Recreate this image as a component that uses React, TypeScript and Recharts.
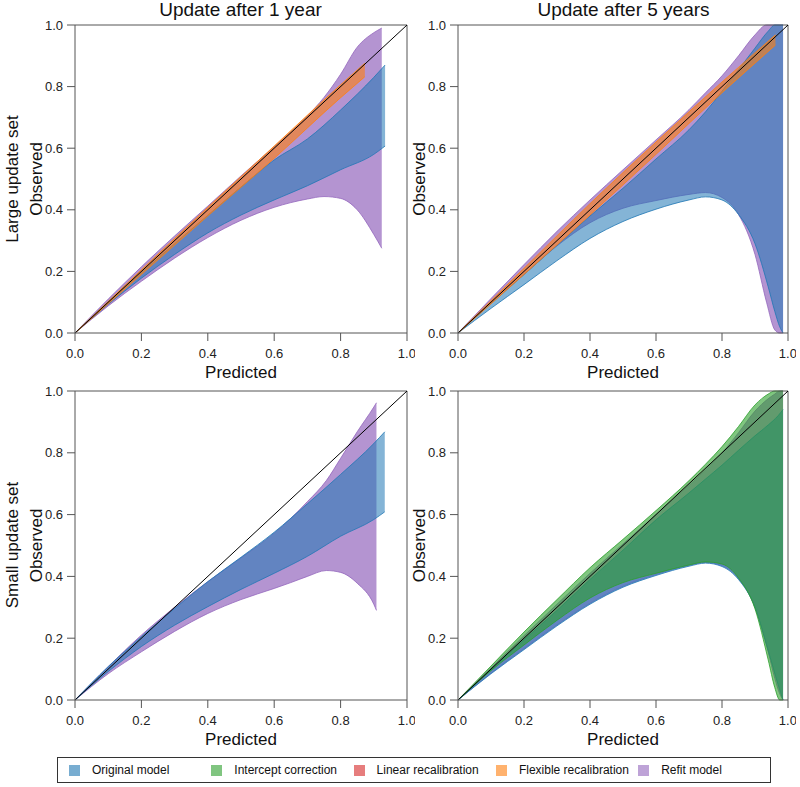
import React from "react";
import { ComposedChart, Area, XAxis, YAxis, ReferenceLine, Label } from "recharts";

// [predicted, lower observed, upper observed]
type Pt = [number, number, number];

const axisTicks = [0, 0.2, 0.4, 0.6, 0.8, 1.0];
const columnTitles = ["Update after 1 year", "Update after 5 years"];
const rowTitles = ["Large update set", "Small update set"];
const models = [
  "Original model",
  "Intercept correction",
  "Linear recalibration",
  "Flexible recalibration",
  "Refit model",
];
const modelColors = ["#1f77b4", "#2ca02c", "#d62728", "#ff7f0e", "#9467bd"];
const modelOpacity = [0.55, 0.6, 0.6, 0.6, 0.7];

/* Large update set, update after 1 year */
const large1Refit: Pt[] = [
  [0, 0, 0], [0.1, 0.088, 0.11], [0.2, 0.168, 0.215], [0.3, 0.243, 0.315],
  [0.4, 0.31, 0.412], [0.5, 0.366, 0.51], [0.6, 0.408, 0.605], [0.7, 0.435, 0.705],
  [0.75, 0.443, 0.765], [0.8, 0.437, 0.84], [0.85, 0.4, 0.928], [0.9, 0.32, 0.975],
  [0.924, 0.275, 0.99],
];
const large1Original: Pt[] = [
  [0, 0, 0], [0.1, 0.093, 0.1], [0.2, 0.178, 0.196], [0.3, 0.255, 0.29],
  [0.4, 0.325, 0.382], [0.5, 0.383, 0.474], [0.6, 0.432, 0.562], [0.7, 0.478, 0.63],
  [0.8, 0.53, 0.724], [0.9, 0.58, 0.83], [0.934, 0.607, 0.87],
];
const large1Flexible: Pt[] = [
  [0, 0, 0], [0.2, 0.19, 0.205], [0.4, 0.38, 0.408], [0.6, 0.567, 0.607],
  [0.8, 0.764, 0.806], [0.873, 0.832, 0.876],
];

/* Large update set, update after 5 years */
const large5Refit: Pt[] = [
  [0, 0, 0], [0.1, 0.098, 0.112], [0.2, 0.19, 0.222], [0.3, 0.283, 0.33],
  [0.4, 0.358, 0.432], [0.5, 0.405, 0.53], [0.6, 0.43, 0.627], [0.7, 0.45, 0.725],
  [0.75, 0.456, 0.78], [0.8, 0.44, 0.835], [0.85, 0.385, 0.9], [0.9, 0.255, 0.968],
  [0.935, 0.1, 1.0], [0.96, 0.01, 1.0], [0.975, 0, 1.0], [0.985, 0, 1.0],
];
const large5Original: Pt[] = [
  [0, 0, 0], [0.1, 0.08, 0.095], [0.2, 0.157, 0.19], [0.3, 0.235, 0.285],
  [0.4, 0.307, 0.38], [0.5, 0.362, 0.47], [0.6, 0.402, 0.565], [0.7, 0.432, 0.66],
  [0.75, 0.442, 0.718], [0.8, 0.432, 0.785], [0.85, 0.385, 0.855], [0.9, 0.29, 0.925],
  [0.94, 0.15, 0.98], [0.96, 0.07, 1.0], [0.975, 0.02, 1.0], [0.985, 0, 1.0],
];
const large5Flexible: Pt[] = [
  [0, 0, 0], [0.2, 0.19, 0.21], [0.4, 0.383, 0.42], [0.6, 0.58, 0.62],
  [0.8, 0.78, 0.815], [0.962, 0.935, 0.968],
];

/* Small update set, update after 1 year */
const small1Refit: Pt[] = [
  [0, 0, 0], [0.1, 0.085, 0.108], [0.2, 0.156, 0.21], [0.3, 0.222, 0.3],
  [0.4, 0.28, 0.383], [0.5, 0.325, 0.46], [0.6, 0.361, 0.54], [0.65, 0.38, 0.588],
  [0.7, 0.4, 0.642], [0.757, 0.419, 0.71], [0.8, 0.413, 0.782], [0.85, 0.378, 0.868],
  [0.9, 0.31, 0.948], [0.908, 0.29, 0.962],
];
const small1Original: Pt[] = [
  [0, 0, 0], [0.1, 0.092, 0.108], [0.2, 0.173, 0.205], [0.3, 0.242, 0.296],
  [0.4, 0.302, 0.383], [0.5, 0.358, 0.462], [0.6, 0.41, 0.543], [0.7, 0.465, 0.635],
  [0.8, 0.53, 0.73], [0.9, 0.584, 0.83], [0.933, 0.609, 0.868],
];

/* Small update set, update after 5 years */
const small5Refit: Pt[] = [
  [0, 0, 0], [0.1, 0.087, 0.104], [0.2, 0.166, 0.208], [0.3, 0.243, 0.31],
  [0.4, 0.313, 0.41], [0.5, 0.368, 0.505], [0.6, 0.406, 0.6], [0.7, 0.436, 0.695],
  [0.75, 0.445, 0.745], [0.8, 0.435, 0.8], [0.85, 0.393, 0.865], [0.9, 0.3, 0.935],
  [0.94, 0.155, 0.975], [0.96, 0.07, 0.99], [0.975, 0.02, 1.0], [0.985, 0, 1.0],
];
const small5Original: Pt[] = [
  [0, 0, 0], [0.1, 0.085, 0.097], [0.2, 0.163, 0.195], [0.3, 0.24, 0.29],
  [0.4, 0.31, 0.39], [0.5, 0.365, 0.485], [0.6, 0.403, 0.583], [0.7, 0.433, 0.67],
  [0.75, 0.443, 0.715], [0.8, 0.432, 0.76], [0.85, 0.39, 0.808], [0.9, 0.3, 0.855],
  [0.94, 0.16, 0.89], [0.97, 0.05, 0.92], [0.985, 0, 0.94],
];
const small5Intercept: Pt[] = [
  [0, 0, 0], [0.1, 0.095, 0.11], [0.2, 0.178, 0.22], [0.3, 0.258, 0.325],
  [0.4, 0.33, 0.428], [0.5, 0.38, 0.52], [0.6, 0.41, 0.613], [0.7, 0.437, 0.71],
  [0.75, 0.447, 0.763], [0.8, 0.44, 0.82], [0.85, 0.395, 0.885], [0.9, 0.295, 0.955],
  [0.94, 0.13, 0.99], [0.96, 0.04, 1.0], [0.975, 0, 1.0], [0.985, 0, 1.0],
];

const font = "'Liberation Sans', Arial, sans-serif";

type Band = { model: number; points: Pt[] };
type Panel = { left: number; top: number; height: number; width: number; bands: Band[] };

const panels: Panel[] = [
  {
    left: 0, top: 0, width: 415, height: 380,
    bands: [
      { model: 4, points: large1Refit },
      { model: 0, points: large1Original },
      { model: 3, points: large1Flexible },
    ],
  },
  {
    left: 383, top: 0, width: 413, height: 380,
    bands: [
      { model: 4, points: large5Refit },
      { model: 0, points: large5Original },
      { model: 3, points: large5Flexible },
    ],
  },
  {
    left: 0, top: 366, width: 415, height: 381,
    bands: [
      { model: 4, points: small1Refit },
      { model: 0, points: small1Original },
    ],
  },
  {
    left: 383, top: 366, width: 413, height: 381,
    bands: [
      { model: 4, points: small5Refit },
      { model: 0, points: small5Original },
      { model: 1, points: small5Intercept },
    ],
  },
];

const toRows = (pts: Pt[]) => pts.map(([x, lo, hi]) => ({ x, r: [lo, hi] }));

const yLabel = (props: any) => {
  const vb = props.viewBox;
  const cx = vb.x + 36;
  const cy = vb.y + vb.height / 2;
  return (
    <text
      x={cx}
      y={cy}
      transform={`rotate(-90, ${cx}, ${cy})`}
      textAnchor="middle"
      dominantBaseline="central"
      fontSize={17}
      fontFamily={font}
      fill="#111"
    >
      Observed
    </text>
  );
};

const xLabel = (props: any) => {
  const vb = props.viewBox;
  return (
    <text
      x={vb.x + vb.width / 2}
      y={vb.y + 39}
      textAnchor="middle"
      dominantBaseline="central"
      fontSize={17}
      fontFamily={font}
      fill="#111"
    >
      Predicted
    </text>
  );
};

function CalibrationPanel({ panel }: { panel: Panel }) {
  return (
    <div style={{ position: "absolute", left: panel.left, top: panel.top }}>
      <ComposedChart
        width={panel.width}
        height={panel.height}
        margin={{ top: 25, right: 8, left: 0, bottom: 0 }}
      >
        <XAxis
          dataKey="x"
          type="number"
          domain={[0, 1]}
          ticks={axisTicks}
          tickFormatter={(v: number) => v.toFixed(1)}
          tick={{ fontSize: 13, fill: "#222", fontFamily: font }}
          stroke="#555"
          tickSize={8}
          tickMargin={8}
          height={47}
        >
          <Label content={xLabel} />
        </XAxis>
        <YAxis
          type="number"
          domain={[0, 1]}
          ticks={axisTicks}
          tickFormatter={(v: number) => v.toFixed(1)}
          tick={{ fontSize: 13, fill: "#222", fontFamily: font }}
          stroke="#555"
          tickSize={8}
          tickMargin={4}
          width={75}
        >
          <Label content={yLabel} />
        </YAxis>
        {panel.bands.map((b, i) => (
          <Area
            key={i}
            data={toRows(b.points)}
            dataKey="r"
            type="monotone"
            fill={modelColors[b.model]}
            fillOpacity={modelOpacity[b.model]}
            stroke={modelColors[b.model]}
            strokeOpacity={0.8}
            strokeWidth={1}
            dot={false}
            activeDot={false}
            isAnimationActive={false}
          />
        ))}
        <ReferenceLine x={1} stroke="#555" />
        <ReferenceLine y={1} stroke="#555" />
        <ReferenceLine
          segment={[
            { x: 0, y: 0 },
            { x: 1, y: 1 },
          ]}
          stroke="#000"
          strokeWidth={1}
        />
      </ComposedChart>
    </div>
  );
}

export default function App() {
  return (
    <div
      style={{
        position: "absolute",
        left: 0,
        top: 0,
        width: 800,
        height: 787,
        background: "#fff",
        fontFamily: font,
        color: "#111",
      }}
    >
      {panels.map((p, i) => (
        <CalibrationPanel key={i} panel={p} />
      ))}
      {columnTitles.map((t, i) => (
        <div
          key={t}
          style={{
            position: "absolute",
            left: i === 0 ? 75 : 458,
            width: 331,
            top: 0,
            textAlign: "center",
            fontSize: 19,
            lineHeight: "20px",
          }}
        >
          {t}
        </div>
      ))}
      {rowTitles.map((t, i) => (
        <div
          key={t}
          style={{
            position: "absolute",
            left: 13 - 100,
            top: (i === 0 ? 179 : 545) - 10,
            width: 200,
            height: 20,
            lineHeight: "20px",
            textAlign: "center",
            fontSize: 17,
            transform: "rotate(-90deg)",
          }}
        >
          {t}
        </div>
      ))}
      <div
        style={{
          position: "absolute",
          left: 57,
          top: 757,
          width: 714,
          height: 26,
          border: "1px solid #333",
          boxSizing: "border-box",
        }}
      >
        {models.map((m, i) => (
          <div
            key={m}
            style={{
              position: "absolute",
              left: 11 + i * 142.3,
              top: 0,
              height: 24,
              display: "flex",
              alignItems: "center",
              fontSize: 12,
            }}
          >
            <span
              style={{
                display: "inline-block",
                width: 9,
                height: 9,
                background: modelColors[i],
                opacity: 0.6,
                border: `1px solid ${modelColors[i]}`,
                marginRight: 12,
              }}
            />
            {m}
          </div>
        ))}
      </div>
    </div>
  );
}
